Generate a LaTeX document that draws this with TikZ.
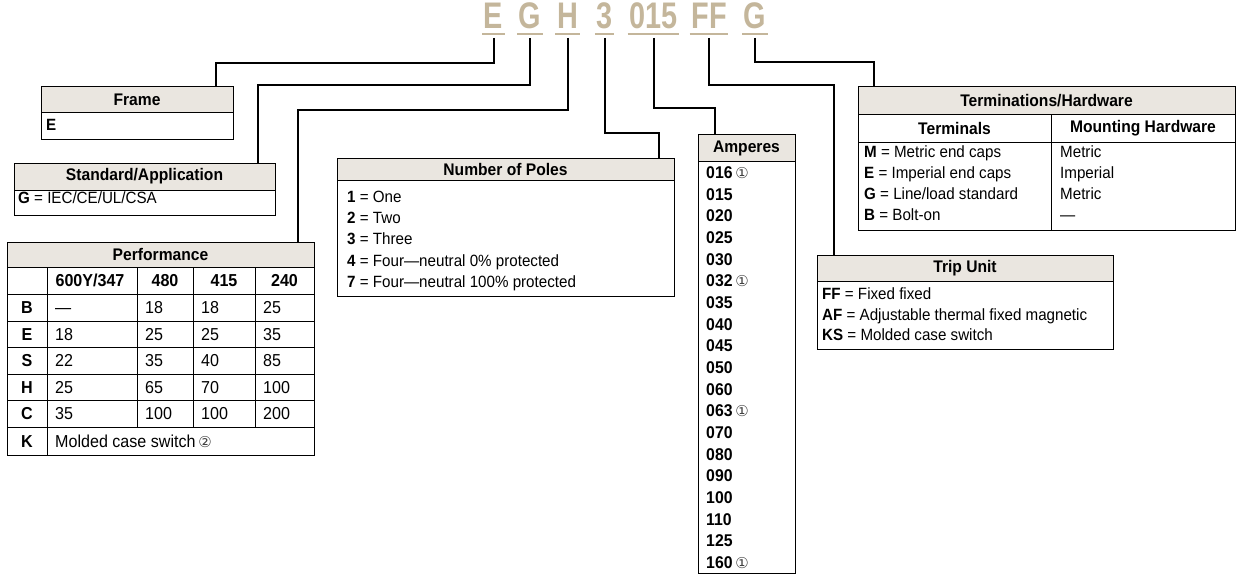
\documentclass[tikz,border=0pt]{standalone}
\usepackage{fontspec}
\setmainfont[FakeStretch=0.93]{Liberation Sans}
\newfontfamily\codefont[FakeStretch=0.78]{Liberation Sans}
\newfontfamily\circfont{DejaVu Sans}
\usetikzlibrary{calc}
\definecolor{codetan}{RGB}{196,182,155}
\definecolor{hdrfill}{RGB}{234,230,224}
\newcommand{\cnum}[1]{\,{\circfont\mdseries\fontsize{15}{15}\selectfont\color{black!75}#1}}
\begin{document}
\begin{tikzpicture}[x=1pt,y=-1pt,
  code/.style={font=\codefont\bfseries\fontsize{37}{37}\selectfont, text=codetan, inner sep=0pt, anchor=base},
  uline/.style={draw=codetan, line width=2pt},
  conn/.style={draw=black, line width=2pt},
  boxline/.style={draw=black, line width=1pt},
  hdr/.style={boxline, fill=hdrfill, anchor=north west, inner sep=0pt, outer sep=0pt, font=\fontsize{16.8}{19}\selectfont\bfseries},
  bodybox/.style={boxline, anchor=north west, inner sep=0pt, outer sep=0pt, font=\fontsize{16.8}{19}\selectfont\bfseries},
  txt/.style={anchor=base west, inner sep=0pt, font=\fontsize{16.3}{19}\selectfont},
  ptxt/.style={anchor=base west, inner sep=0pt, font=\fontsize{17.3}{20}\selectfont},
  pbold/.style={anchor=base, inner sep=0pt, font=\fontsize{17.3}{20}\selectfont\bfseries},
  amp/.style={anchor=base west, inner sep=0pt, font=\fontsize{17}{20}\selectfont\bfseries}
]
\useasboundingbox (0,0) rectangle (1236,575);

% ---- catalogue code ----
\node[code] (cE) at (493.5,29) {E};
\node[code] (cG) at (530,29) {G};
\node[code] (cH) at (567.5,29) {H};
\node[code] (c3) at (604.5,29) {3};
\node[code] (cA) at (653.5,29) {015};
\node[code] (cF) at (709,29) {FF};
\node[code] (cT) at (755,29) {G};
\foreach \n in {cE,cG,cH,c3,cA,cF,cT}{
  \draw[uline] ([xshift=-1.5pt,yshift=-5pt]\n.base west) -- ([xshift=1.5pt,yshift=-5pt]\n.base east);
}

% ---- Frame ----
\node[hdr, minimum width=192pt, minimum height=26pt] (frameH) at (41,87) {Frame};
\node[bodybox, minimum width=192pt, minimum height=26pt] (frameB) at (41,113) {};
\node[txt] (frameE) at (46,130.5) {\bfseries E};

% ---- Standard ----
\node[hdr, minimum width=261pt, minimum height=27pt] (stdH) at (14,163) {Standard/Application};
\node[bodybox, minimum width=261pt, minimum height=25pt] (stdB) at (14,190) {};
\node[txt] (stdG) at (18,203.5) {{\bfseries G} = IEC/CE/UL/CSA};

% ---- Performance ----
\node[hdr, minimum width=307pt, minimum height=25pt] (perfH) at (7,242) {Performance};
\node[bodybox, minimum width=307pt, minimum height=188pt] (perfB) at (7,267) {};
\foreach \yy in {294,321,347,374,400,427}{\draw[boxline] (7,\yy) -- (314,\yy);}
\draw[boxline] (47,267) -- (47,455);
\foreach \xx in {137,193,255}{\draw[boxline] (\xx,267) -- (\xx,427);}
\node[pbold] (ph1) at (90,286.6) {600Y/347};
\node[pbold] (ph2) at (165,286.6) {480};
\node[pbold] (ph3) at (224,286.6) {415};
\node[pbold] (ph4) at (284.5,286.6) {240};
\foreach \lab/\yy/\a/\b/\c/\d [count=\i] in {B/313.6/---/18/18/25, E/340.1/18/25/25/35, S/366.6/22/35/40/85, H/393.1/25/65/70/100, C/419.6/35/100/100/200}{
  \node[pbold] (pr\i) at (27,\yy) {\lab};
  \node[ptxt] (pa\i) at (55,\yy) {\a};
  \node[ptxt] (pb\i) at (145,\yy) {\b};
  \node[ptxt] (pc\i) at (201,\yy) {\c};
  \node[ptxt] (pd\i) at (263,\yy) {\d};
}
\node[pbold] (prK) at (27,447.1) {K};
\node[ptxt] (pK) at (55,447.1) {Molded case switch\cnum{②}};

% ---- Number of Poles ----
\node[hdr, minimum width=337pt, minimum height=22pt] (polesH) at (337,158) {Number of Poles};
\node[bodybox, minimum width=337pt, minimum height=116pt] (polesB) at (337,180) {};
\node[txt] (p1) at (347,202.1) {{\bfseries 1} = One};
\node[txt] (p2) at (347,223.4) {{\bfseries 2} = Two};
\node[txt] (p3) at (347,244.7) {{\bfseries 3} = Three};
\node[txt] (p4) at (347,266.0) {{\bfseries 4} = Four---neutral 0\% protected};
\node[txt] (p7) at (347,287.3) {{\bfseries 7} = Four---neutral 100\% protected};

% ---- Amperes ----
\node[hdr, minimum width=97pt, minimum height=26pt] (ampH) at (698,135) {Amperes};
\node[bodybox, minimum width=97pt, minimum height=412pt] (ampB) at (698,161) {};
\foreach \v [count=\i from 0] in {016\cnum{①},015,020,025,030,032\cnum{①},035,040,045,050,060,063\cnum{①},070,080,090,100,110,125,160\cnum{①}}{
  \node[amp] (a\i) at (706,178.5+21.67*\i) {\v};
}

% ---- Terminations/Hardware ----
\node[hdr, minimum width=377pt, minimum height=28pt] (termH) at (858,87) {Terminations/Hardware};
\node[bodybox, minimum width=193pt, minimum height=27pt] (termS1) at (858,115) {Terminals};
\node[bodybox, minimum width=184pt, minimum height=27pt] (termS2) at (1051,115) {Mounting Hardware};
\node[bodybox, minimum width=193pt, minimum height=88pt] (termB1) at (858,142) {};
\node[bodybox, minimum width=184pt, minimum height=88pt] (termB2) at (1051,142) {};
\node[txt] (tM) at (864,157.8) {{\bfseries M} = Metric end caps};
\node[txt] (tE) at (864,178.8) {{\bfseries E} = Imperial end caps};
\node[txt] (tG) at (864,199.8) {{\bfseries G} = Line/load standard};
\node[txt] (tB) at (864,220.8) {{\bfseries B} = Bolt-on};
\node[txt] (hM) at (1060,157.8) {Metric};
\node[txt] (hE) at (1060,178.8) {Imperial};
\node[txt] (hG) at (1060,199.8) {Metric};
\node[txt] (hB) at (1060,220.8) {---};

% ---- Trip Unit ----
\node[hdr, minimum width=296pt, minimum height=26pt] (tripH) at (817,255) {Trip Unit};
\node[bodybox, minimum width=296pt, minimum height=68pt] (tripB) at (817,281) {};
\node[txt] (tFF) at (822,299.2) {{\bfseries FF} = Fixed fixed};
\node[txt] (tAF) at (822,320) {{\bfseries AF} = Adjustable thermal fixed magnetic};
\node[txt] (tKS) at (822,340.8) {{\bfseries KS} = Molded case switch};

% ---- connectors ----
\coordinate (inFrame) at (216,87);
\coordinate (inStd) at (258,163);
\coordinate (inPerf) at (298,242);
\coordinate (inPoles) at (659,158);
\coordinate (inAmp) at (715,135);
\coordinate (inTrip) at (834,255);
\coordinate (inTerm) at (874,87);
\draw[conn] ([yshift=-9pt]cE.base) |- ($(inFrame)+(0,-24)$) -- (inFrame);
\draw[conn] ([yshift=-9pt]cG.base) |- ($(inStd)+(0,-78)$) -- (inStd);
\draw[conn] ([yshift=-9pt]cH.base) |- ($(inPerf)+(0,-132)$) -- (inPerf);
\draw[conn] ([yshift=-9pt]c3.base) |- ($(inPoles)+(0,-25)$) -- (inPoles);
\draw[conn] ([yshift=-9pt]cA.base) |- ($(inAmp)+(0,-27)$) -- (inAmp);
\draw[conn] ([yshift=-9pt]cF.base) |- ($(inTrip)+(0,-170)$) -- (inTrip);
\draw[conn] ([yshift=-9pt]cT.base) |- ($(inTerm)+(0,-25)$) -- (inTerm);
\end{tikzpicture}
\end{document}
